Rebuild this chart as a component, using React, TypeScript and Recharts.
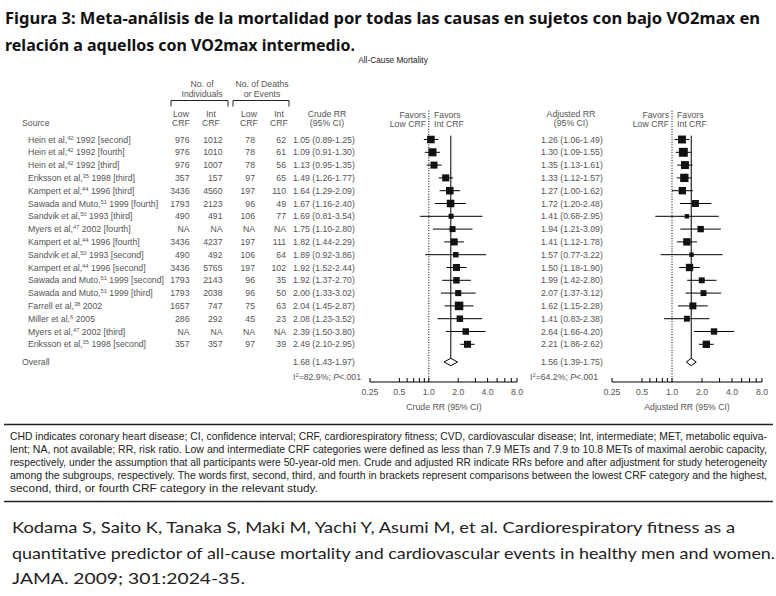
import React from 'react';
import { ScatterChart, Scatter, XAxis, YAxis, ErrorBar, ReferenceLine } from 'recharts';

// ---- data ----
const sourceAuthors = ['Hein et al', 'Hein et al', 'Hein et al', 'Eriksson et al', 'Kampert et al', 'Sawada and Muto', 'Sandvik et al', 'Myers et al', 'Kampert et al', 'Sandvik et al', 'Kampert et al', 'Sawada and Muto', 'Sawada and Muto', 'Farrell et al', 'Miller et al', 'Myers et al', 'Eriksson et al'];
const sourceRefs = [42, 42, 42, 35, 44, 51, 50, 47, 44, 50, 44, 51, 51, 38, 6, 47, 35];
const sourceYears = [1992, 1992, 1992, 1998, 1996, 1999, 1993, 2002, 1996, 1993, 1996, 1999, 1999, 2002, 2005, 2002, 1998];
const comparisons = ['second', 'fourth', 'third', 'third', 'third', 'fourth', 'third', 'fourth', 'fourth', 'second', 'second', 'second', 'third', '', '', 'third', 'second'];

const lowCrfN = [976, 976, 976, 357, 3436, 1793, 490, null, 3436, 490, 3436, 1793, 1793, 1657, 286, null, 357];
const intCrfN = [1012, 1010, 1007, 157, 4560, 2123, 491, null, 4237, 492, 5765, 2143, 2038, 747, 292, null, 357];
const lowCrfDeaths = [78, 78, 78, 97, 197, 96, 106, null, 197, 106, 197, 96, 96, 75, 45, null, 97];
const intCrfDeaths = [62, 61, 56, 65, 110, 49, 77, null, 111, 64, 102, 35, 50, 63, 23, null, 39];

const crudeRR = [1.05, 1.09, 1.13, 1.49, 1.64, 1.67, 1.69, 1.75, 1.82, 1.89, 1.92, 1.92, 2.0, 2.04, 2.08, 2.39, 2.49];
const crudeLo = [0.89, 0.91, 0.95, 1.26, 1.29, 1.16, 0.81, 1.1, 1.44, 0.92, 1.52, 1.37, 1.33, 1.45, 1.23, 1.5, 2.1];
const crudeHi = [1.25, 1.3, 1.35, 1.77, 2.09, 2.4, 3.54, 2.8, 2.29, 3.86, 2.44, 2.7, 3.02, 2.87, 3.52, 3.8, 2.95];
const crudeWeight = [7.0, 8.0, 6.1, 6.1, 7.0, 7.0, 3.1, 4.5, 6.1, 3.7, 6.1, 5.2, 4.5, 9.0, 5.2, 5.2, 6.1];

const adjRR = [1.26, 1.3, 1.35, 1.33, 1.27, 1.72, 1.41, 1.94, 1.41, 1.57, 1.5, 1.99, 2.07, 1.62, 1.41, 2.64, 2.21];
const adjLo = [1.06, 1.09, 1.13, 1.12, 1.0, 1.2, 0.68, 1.21, 1.12, 0.77, 1.18, 1.42, 1.37, 1.15, 0.83, 1.66, 1.86];
const adjHi = [1.49, 1.55, 1.61, 1.57, 1.62, 2.48, 2.95, 3.09, 1.78, 3.22, 1.9, 2.8, 3.12, 2.28, 2.38, 4.2, 2.62];
const adjWeight = [7.7, 9.7, 7.7, 8.6, 6.7, 5.9, 2.4, 5.0, 6.7, 2.4, 6.7, 4.3, 4.3, 5.9, 4.3, 5.0, 6.7];

const overallCrude = [1.68, 1.43, 1.97];
const overallAdj = [1.56, 1.39, 1.75];
const heterogeneity = ['82.9%', '64.2%'];

const axisTicks = [0.25, 0.5, 0.6, 0.7, 0.8, 0.9, 1, 2, 3, 4, 5, 6, 7, 8];
const majorTicks = [0.25, 0.5, 1, 2, 4, 8];
const majorLabels = ['0.25', '0.5', '1.0', '2.0', '4.0', '8.0'];

const titleLines = [
  'Figura 3: Meta-análisis de la mortalidad por todas las causas en sujetos con bajo VO2max en',
  'relación a aquellos con VO2max intermedio.',
];
const footnoteLines = [
  'CHD indicates coronary heart disease; CI, confidence interval; CRF, cardiorespiratory fitness; CVD, cardiovascular disease; Int, intermediate; MET, metabolic equiva-',
  'lent; NA, not available; RR, risk ratio. Low and intermediate CRF categories were defined as less than 7.9 METs and 7.9 to 10.8 METs of maximal aerobic capacity,',
  'respectively, under the assumption that all participants were 50-year-old men. Crude and adjusted RR indicate RRs before and after adjustment for study heterogeneity',
  'among the subgroups, respectively. The words first, second, third, and fourth in brackets represent comparisons between the lowest CRF category and the highest,',
  'second, third, or fourth CRF category in the relevant study.',
];
const citationLines = [
  'Kodama S, Saito K, Tanaka S, Maki M, Yachi Y, Asumi M, et al. Cardiorespiratory fitness as a',
  'quantitative predictor of all-cause mortality and cardiovascular events in healthy men and women.',
  'JAMA. 2009; 301:2024-35.',
];

// ---- layout ----
const FONT = '"Liberation Sans", Arial, sans-serif';
const TXT = '#555';
const ROW0 = 139.5;
const STEP = 12.8;
const rowY = (i: number) => ROW0 + STEP * i;
const OVERALL_Y = 362;
const OVERALL_I = (OVERALL_Y - ROW0) / STEP;
const CHART_TOP = 100;
const PLOT_TOP = 110;
const PLOT_BOTTOM = 382;
const CHART_H = 300;
const AXIS_H = 14;
const SQ = 2.85;

const fmtCI = (r: number, l: number, h: number) => `${r.toFixed(2)} (${l.toFixed(2)}-${h.toFixed(2)})`;

const T = ({ x, y, anchor = 'start', size = 8.7, children, ...rest }: any) => (
  <text x={x} y={y} dy="0.35em" textAnchor={anchor} fontSize={size} fontFamily={FONT} fill={TXT} {...rest}>
    {children}
  </text>
);

const LogTick = ({ x, y, payload }: any) => {
  const k = majorTicks.indexOf(payload.value);
  return (
    <g>
      <line x1={x} x2={x} y1={y} y2={y - 4} stroke="#000" strokeWidth={1} />
      {k >= 0 && (
        <text x={x} y={y + 10} dy="0.35em" textAnchor="middle" fontSize={8.7} fontFamily={FONT} fill={TXT}>
          {majorLabels[k]}
        </text>
      )}
    </g>
  );
};

const Square = ({ cx, cy, payload }: any) => {
  const s = SQ * Math.sqrt(payload.w);
  return <rect x={cx - s / 2} y={cy - s / 2} width={s} height={s} fill="#111" />;
};

function ForestPanel({ rr, lo, hi, w, overall, left, width, plotLeft, plotRight }: any) {
  const data = rr.map((v: number, i: number) => ({ x: v, y: i, err: [v - lo[i], hi[i] - v], w: w[i] }));
  const [oR, oL, oH] = overall;
  const h = 0.29;
  const diamond = [
    { x: oL, y: OVERALL_I },
    { x: oR, y: OVERALL_I - h },
    { x: oH, y: OVERALL_I },
    { x: oR, y: OVERALL_I + h },
    { x: oL, y: OVERALL_I },
  ];
  const yMin = (PLOT_TOP - ROW0) / STEP;
  const yMax = (PLOT_BOTTOM - ROW0) / STEP;
  return (
    <div style={{ position: 'absolute', left, top: CHART_TOP }}>
      <ScatterChart
        width={width}
        height={CHART_H}
        margin={{
          top: PLOT_TOP - CHART_TOP,
          bottom: CHART_H - (PLOT_BOTTOM - CHART_TOP) - AXIS_H,
          left: plotLeft - left,
          right: left + width - plotRight,
        }}
      >
        <XAxis
          type="number"
          dataKey="x"
          scale="log"
          domain={[0.25, 8]}
          allowDataOverflow
          ticks={axisTicks}
          interval={0}
          height={AXIS_H}
          tickLine={false}
          tickSize={0}
          tickMargin={0}
          tick={(p: any) => <LogTick {...p} />}
          stroke="#000"
        />
        <YAxis type="number" dataKey="y" domain={[yMin, yMax]} reversed hide allowDataOverflow />
        <ReferenceLine x={1} stroke="#000" strokeDasharray="1 1.6" />
        <ReferenceLine
          segment={[
            { x: oR, y: -0.3 },
            { x: oR, y: OVERALL_I - h },
          ]}
          stroke="#000"
        />
        <Scatter data={data} shape={(p: any) => <Square {...p} />} isAnimationActive={false}>
          <ErrorBar dataKey="err" direction="x" width={0} stroke="#000" strokeWidth={1} isAnimationActive={false} />
        </Scatter>
        <Scatter
          data={diamond}
          line={{ stroke: '#000', strokeWidth: 1 }}
          shape={() => <g />}
          fill="#000"
          isAnimationActive={false}
        />
      </ScatterChart>
    </div>
  );
}

const Het = ({ x, y, value }: any) => (
  <T x={x} y={y}>
    I<tspan dy={-3} fontSize={5.8}>2</tspan>
    <tspan dy={3}>={value}; </tspan>
    <tspan fontStyle="italic">P</tspan>&lt;.001
  </T>
);

const Favors = ({ x }: any) => (
  <g>
    <T x={x - 3} y={115} anchor="end">Favors</T>
    <T x={x - 3} y={123.5} anchor="end">Low CRF</T>
    <T x={x + 5} y={115}>Favors</T>
    <T x={x + 5} y={123.5}>Int CRF</T>
  </g>
);

const num = (v: number | null) => (v == null ? 'NA' : String(v));

export default function App() {
  return (
    <div style={{ position: 'absolute', left: 0, top: 0, width: 776, height: 596, background: '#fff', overflow: 'hidden' }}>
      <svg width={776} height={596} style={{ position: 'absolute', left: 0, top: 0 }}>
        {/* title */}
        <text x={5} y={24} fontSize={16} fontWeight={700} fontFamily='"Noto Sans", sans-serif' fill="#111" textLength={755} lengthAdjust="spacingAndGlyphs">
          {titleLines[0]}
        </text>
        <text x={5} y={51} fontSize={16} fontWeight={700} fontFamily='"Noto Sans", sans-serif' fill="#111" textLength={350} lengthAdjust="spacingAndGlyphs">
          {titleLines[1]}
        </text>
        <T x={393} y={60} anchor="middle" size={8.3} fill="#222">All-Cause Mortality</T>

        {/* column headers */}
        <T x={202} y={84} anchor="middle">No. of</T>
        <T x={202} y={93.5} anchor="middle">Individuals</T>
        <T x={262} y={84} anchor="middle">No. of Deaths</T>
        <T x={262} y={93.5} anchor="middle">or Events</T>
        <path d="M171,106.5 V100.5 H228 V106.5" fill="none" stroke="#222" strokeWidth={1} />
        <path d="M233,106.5 V100.5 H289 V106.5" fill="none" stroke="#222" strokeWidth={1} />
        <T x={22} y={122.5}>Source</T>
        <T x={181} y={113.5} anchor="middle">Low</T>
        <T x={181} y={122.5} anchor="middle">CRF</T>
        <T x={211} y={113.5} anchor="middle">Int</T>
        <T x={211} y={122.5} anchor="middle">CRF</T>
        <T x={249} y={113.5} anchor="middle">Low</T>
        <T x={249} y={122.5} anchor="middle">CRF</T>
        <T x={279} y={113.5} anchor="middle">Int</T>
        <T x={279} y={122.5} anchor="middle">CRF</T>
        <T x={327} y={113.5} anchor="middle">Crude RR</T>
        <T x={327} y={122.5} anchor="middle">(95% CI)</T>
        <T x={571} y={113.5} anchor="middle">Adjusted RR</T>
        <T x={571} y={122.5} anchor="middle">(95% CI)</T>
        <Favors x={429} />
        <Favors x={672} />

        {/* rows */}
        {sourceAuthors.map((a, i) => (
          <g key={i}>
            <T x={28} y={rowY(i)}>
              {a},<tspan dy={-3} fontSize={5.8}>{sourceRefs[i]}</tspan>
              <tspan dy={3}>{` ${sourceYears[i]}${comparisons[i] ? ` [${comparisons[i]}]` : ''}`}</tspan>
            </T>
            <T x={189.5} y={rowY(i)} anchor="end">{num(lowCrfN[i])}</T>
            <T x={222.5} y={rowY(i)} anchor="end">{num(intCrfN[i])}</T>
            <T x={255} y={rowY(i)} anchor="end">{num(lowCrfDeaths[i])}</T>
            <T x={286} y={rowY(i)} anchor="end">{num(intCrfDeaths[i])}</T>
            <T x={293} y={rowY(i)}>{fmtCI(crudeRR[i], crudeLo[i], crudeHi[i])}</T>
            <T x={541} y={rowY(i)}>{fmtCI(adjRR[i], adjLo[i], adjHi[i])}</T>
          </g>
        ))}
        <T x={22} y={OVERALL_Y}>Overall</T>
        <T x={293} y={OVERALL_Y}>{fmtCI(overallCrude[0], overallCrude[1], overallCrude[2])}</T>
        <T x={541} y={OVERALL_Y}>{fmtCI(overallAdj[0], overallAdj[1], overallAdj[2])}</T>
        <Het x={293} y={377} value={heterogeneity[0]} />
        <Het x={530} y={377} value={heterogeneity[1]} />

        <T x={444} y={407} anchor="middle">Crude RR (95% CI)</T>
        <T x={687} y={407} anchor="middle">Adjusted RR (95% CI)</T>

        {/* footnote */}
        <line x1={4} x2={773} y1={424.5} y2={424.5} stroke="#222" strokeWidth={1.5} />
        {footnoteLines.map((l, i) => (
          <text
            key={i}
            x={10}
            y={436 + 13 * i}
            dy="0.35em"
            fontSize={10.5}
            fontFamily='"Liberation Sans Narrow", "Liberation Sans", sans-serif'
            fill="#222"
            textLength={i < 4 ? 757 : 308}
            lengthAdjust="spacingAndGlyphs"
          >
            {l}
          </text>
        ))}
        <line x1={4} x2={773} y1={501.5} y2={501.5} stroke="#222" strokeWidth={1.5} />

        {/* citation */}
        {citationLines.map((l, i) => (
          <text
            key={i}
            x={12}
            y={528 + 25.5 * i}
            dy="0.35em"
            fontSize={15}
            fontFamily='Lato, "Open Sans", sans-serif'
            fill="#222"
            textLength={[723, 763, 233][i]}
            lengthAdjust="spacingAndGlyphs"
          >
            {l}
          </text>
        ))}
      </svg>

      <ForestPanel rr={crudeRR} lo={crudeLo} hi={crudeHi} w={crudeWeight} overall={overallCrude} left={355} width={180} plotLeft={370} plotRight={517} />
      <ForestPanel rr={adjRR} lo={adjLo} hi={adjHi} w={adjWeight} overall={overallAdj} left={597} width={179} plotLeft={612} plotRight={762} />
    </div>
  );
}
